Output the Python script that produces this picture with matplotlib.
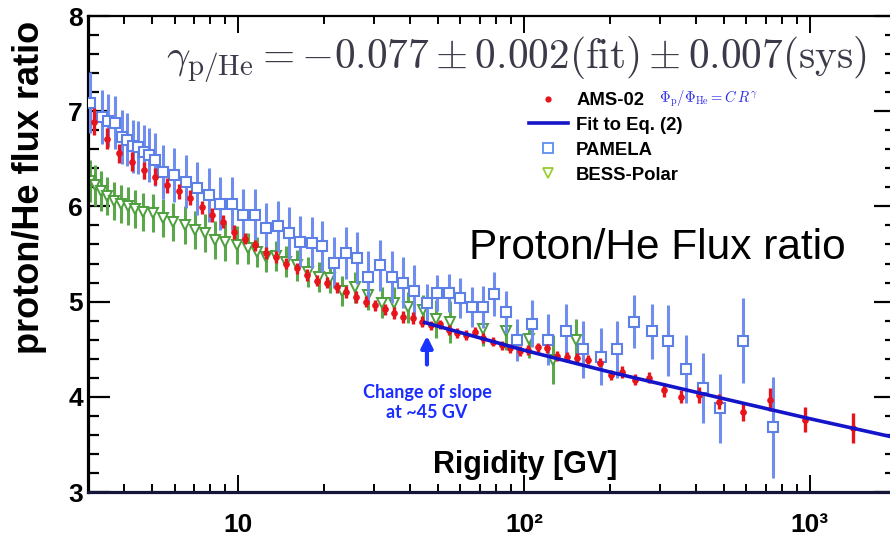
import numpy as np
import matplotlib
matplotlib.use('Agg')
import matplotlib.pyplot as plt
from matplotlib.lines import Line2D
from matplotlib.ticker import LogLocator, MultipleLocator, NullFormatter

# AMS-02 p/He ratio
ams_R = [3.14, 3.48, 3.84, 4.26, 4.69, 5.13, 5.65, 6.22, 6.80, 7.48, 8.11, 8.86, 9.68,
         10.6, 11.5, 12.5, 13.6, 14.7, 16.1, 17.4, 18.9, 20.5, 22.2, 23.9, 25.9, 28.0,
         30.1, 32.7, 35.1, 37.8, 40.9, 44.0, 47.3, 50.8, 54.7, 58.3, 62.7, 67.4, 71.9,
         77.9, 83.8, 89.3, 96.8, 103, 112, 120, 130, 141, 153, 167, 184, 201, 220, 244,
         274, 309, 354, 409, 481, 583, 725, 962, 1413]
ams_ratio = [6.89, 6.71, 6.56, 6.47, 6.38, 6.31, 6.22, 6.16, 6.09, 5.99, 5.91, 5.84, 5.73,
             5.66, 5.59, 5.51, 5.47, 5.40, 5.35, 5.28, 5.22, 5.20, 5.15, 5.10, 5.05, 5.00,
             4.96, 4.92, 4.88, 4.84, 4.83, 4.79, 4.75, 4.76, 4.70, 4.67, 4.65, 4.68, 4.62,
             4.58, 4.54, 4.51, 4.48, 4.49, 4.52, 4.51, 4.43, 4.42, 4.41, 4.39, 4.36, 4.23,
             4.26, 4.18, 4.20, 4.07, 4.00, 4.02, 3.95, 3.84, 3.97, 3.76, 3.67]
ams_err = [0.14, 0.11, 0.10, 0.10, 0.09, 0.09, 0.08, 0.08, 0.08, 0.07, 0.07, 0.07, 0.07,
           0.06, 0.06, 0.06, 0.06, 0.06, 0.06, 0.06, 0.06, 0.06, 0.06, 0.06, 0.06, 0.06,
           0.06, 0.06, 0.06, 0.06, 0.06, 0.06, 0.05, 0.05, 0.05, 0.05, 0.05, 0.05, 0.05,
           0.05, 0.05, 0.05, 0.05, 0.05, 0.05, 0.05, 0.05, 0.05, 0.05, 0.05, 0.05, 0.05,
           0.06, 0.06, 0.06, 0.07, 0.07, 0.08, 0.08, 0.09, 0.12, 0.13, 0.16]

# PAMELA
pam_R = [3.04, 3.35, 3.51, 3.72, 3.93, 4.09, 4.30, 4.47, 4.69, 4.88, 5.13, 5.47, 5.97,
         6.58, 7.19, 7.92, 8.65, 9.53, 10.4, 11.5, 12.5, 13.8, 15.1, 16.5, 18.1, 19.7,
         21.7, 23.9, 26.1, 28.5, 31.4, 34.6, 37.8, 41.2, 45.8, 49.6, 54.7, 59.8, 65.8,
         71.9, 78.6, 86.5, 94.5, 107, 121, 140, 161, 186, 211, 242, 280, 319, 368, 423,
         485, 583, 743]
pam_ratio = [7.09, 6.94, 6.90, 6.88, 6.73, 6.70, 6.63, 6.62, 6.57, 6.54, 6.49, 6.36, 6.33,
             6.26, 6.19, 6.12, 6.03, 6.03, 5.91, 5.91, 5.77, 5.79, 5.72, 5.63, 5.62, 5.58,
             5.41, 5.51, 5.46, 5.26, 5.38, 5.26, 5.20, 5.11, 4.99, 5.09, 5.09, 5.04, 4.94,
             4.94, 5.08, 4.89, 4.60, 4.77, 4.60, 4.69, 4.50, 4.42, 4.50, 4.79, 4.69, 4.59,
             4.29, 4.09, 3.88, 4.59, 3.68]
pam_err = [0.32, 0.28, 0.28, 0.28, 0.28, 0.28, 0.28, 0.28, 0.28, 0.28, 0.28, 0.28, 0.28,
           0.28, 0.28, 0.28, 0.28, 0.28, 0.27, 0.27, 0.27, 0.27, 0.27, 0.27, 0.27, 0.27,
           0.27, 0.27, 0.27, 0.27, 0.27, 0.27, 0.27, 0.27, 0.20, 0.19, 0.20, 0.21, 0.21,
           0.22, 0.23, 0.22, 0.22, 0.25, 0.27, 0.28, 0.30, 0.30, 0.30, 0.28, 0.29, 0.37,
           0.36, 0.37, 0.36, 0.45, 0.53]

# BESS-Polar
bess_R = [3.04, 3.16, 3.32, 3.48, 3.68, 3.90, 4.12, 4.36, 4.65, 5.04, 5.47, 5.93, 6.53,
          7.07, 7.67, 8.31, 9.01, 9.92, 10.8, 11.7, 12.5, 13.6, 14.7, 16.1, 17.6, 19.2,
          21.0, 23.1, 25.7, 28.5, 31.9, 35.1, 39.3, 44.4, 49.2, 55.1, 71.9, 86.5, 104,
          126, 152]
bess_ratio = [6.27, 6.22, 6.16, 6.11, 6.06, 6.03, 6.00, 5.97, 5.94, 5.93, 5.88, 5.84, 5.80,
              5.75, 5.72, 5.65, 5.63, 5.59, 5.56, 5.52, 5.47, 5.48, 5.42, 5.38, 5.31, 5.26,
              5.25, 5.11, 5.15, 5.07, 4.99, 4.99, 4.94, 4.91, 4.82, 4.79, 4.71, 4.69, 4.61,
              4.39, 4.60]
bess_err = [0.22, 0.22, 0.21, 0.20, 0.20, 0.20, 0.20, 0.20, 0.20, 0.20, 0.20, 0.20, 0.20,
            0.20, 0.20, 0.20, 0.20, 0.20, 0.16, 0.16, 0.16, 0.16, 0.16, 0.16, 0.16, 0.16,
            0.16, 0.16, 0.16, 0.16, 0.16, 0.16, 0.16, 0.16, 0.20, 0.22, 0.18, 0.20, 0.20,
            0.26, 0.22]

# fit to Eq. (2) above ~45 GV
fit_R = [45, 100, 200, 500, 1000, 2000]
fit_ratio = [4.78, 4.49, 4.26, 3.98, 3.77, 3.57]

y_ticks = [3, 4, 5, 6, 7, 8]
x_ticks = [10, 100, 1000]
x_labels = ['10', '10²', '10³']

plt.rcParams['mathtext.fontset'] = 'cm'
plt.rcParams['font.family'] = ['Liberation Sans', 'DejaVu Sans']
narrow = ['Liberation Sans Narrow', 'Liberation Sans', 'DejaVu Sans']

fig = plt.figure(figsize=(8.9, 5.43), dpi=100)
ax = fig.add_axes([0.0994, 0.0939, 0.9073, 0.8766])

ax.errorbar(bess_R, bess_ratio, yerr=bess_err, fmt='v', ms=7, mfc='white', mec='#4e9f3d',
            mew=1.4, ecolor='#5aa84a', elinewidth=2.2, capsize=0, zorder=2)
ax.errorbar(pam_R, pam_ratio, yerr=pam_err, fmt='s', ms=7, mfc='white', mec='#5d80e6',
            mew=1.5, ecolor='#6f8ef0', elinewidth=2.2, capsize=0, zorder=3)
ax.errorbar(ams_R, ams_ratio, yerr=ams_err, fmt='o', ms=3.8, color='#e8141c',
            elinewidth=2.4, capsize=0, zorder=4)
ax.plot(fit_R, fit_ratio, color='#1414c8', lw=2.6, zorder=5)

ax.set_xscale('log')
ax.set_xlim(3, 2000)
ax.set_ylim(3, 8)
ax.set_xticks(x_ticks)
ax.set_xticklabels(x_labels, family=narrow, fontweight='bold', fontsize=19)
ax.xaxis.set_minor_locator(LogLocator(base=10, subs=np.arange(2, 10)))
ax.xaxis.set_minor_formatter(NullFormatter())
ax.set_yticks(y_ticks)
ax.set_yticklabels([str(v) for v in y_ticks], family=narrow, fontweight='bold', fontsize=19)
ax.yaxis.set_minor_locator(MultipleLocator(0.2))

ax.tick_params(which='both', direction='in', top=True, right=True, colors='black')
ax.tick_params(axis='x', which='major', length=12, width=1.4, pad=15)
ax.tick_params(axis='x', which='minor', length=6, width=1.4)
ax.tick_params(axis='y', which='major', length=16, width=1.6, pad=4)
ax.tick_params(axis='y', which='minor', length=8, width=1.6)

ax.spines['left'].set_linewidth(2.3)
ax.spines['bottom'].set_linewidth(2.3)
ax.spines['bottom'].set_color('#15153a')
ax.spines['top'].set_linewidth(1.6)
ax.spines['right'].set_linewidth(1.6)

fig.text(30 / 890, 1 - 187 / 543, 'proton/He flux ratio', rotation=90, ha='center',
         va='center', fontsize=26, fontweight='bold')
ax.text(0.5406, 0.040, 'Rigidity [GV]', transform=ax.transAxes, ha='center',
        va='baseline', fontsize=22, fontweight='bold')

fig.text(516 / 890, 1 - 60 / 543,
         r'$\gamma_{\rm p/He} = -0.077 \pm 0.002({\rm fit}) \pm 0.007({\rm sys})$',
         ha='center', va='center', fontsize=29.8, color='#3a3a48')
fig.text(657 / 890, 1 - 248 / 543, 'Proton/He Flux ratio', ha='center', va='center',
         fontsize=30.5)

handles = [Line2D([], [], ls='none', marker='o', ms=3.5, color='#e8141c'),
           Line2D([], [], color='#1414c8', lw=2.6),
           Line2D([], [], ls='none', marker='s', ms=6.5, mfc='white', mec='#5d8ff0', mew=1.3),
           Line2D([], [], ls='none', marker='v', ms=6.5, mfc='white', mec='#9acd32', mew=1.3)]
labels = ['AMS-02', 'Fit to Eq. (2)', 'PAMELA', 'BESS-Polar']
ax.legend(handles, labels, loc='upper left', bbox_to_anchor=(529 / 890, 1 - 92 / 543),
          bbox_transform=fig.transFigure, frameon=False,
          prop=dict(family='Liberation Sans', weight='bold', size=13.3),
          handlelength=2.1, handletextpad=0.45, labelspacing=0.43, borderpad=0,
          borderaxespad=0, numpoints=1)
fig.text(659 / 890, 1 - 99 / 543, r'$\Phi_{\rm p}/\Phi_{\rm He} = C\,R^{\gamma}$',
         color='#2a2ae6', fontsize=10.5, ha='left', va='center')

ax.annotate('', xy=(45.8, 4.67), xytext=(45.8, 4.31),
            arrowprops=dict(arrowstyle='-|>', color='#1a35ff', lw=3, mutation_scale=17))
ax.text(45.8, 3.94, 'Change of slope\nat ~45 GV', ha='center', va='center',
        color='#1a2cff', fontsize=13, family=['Lato', 'DejaVu Sans'], fontweight='bold',
        linespacing=1.2)

fig.savefig('out.png', dpi=100)
